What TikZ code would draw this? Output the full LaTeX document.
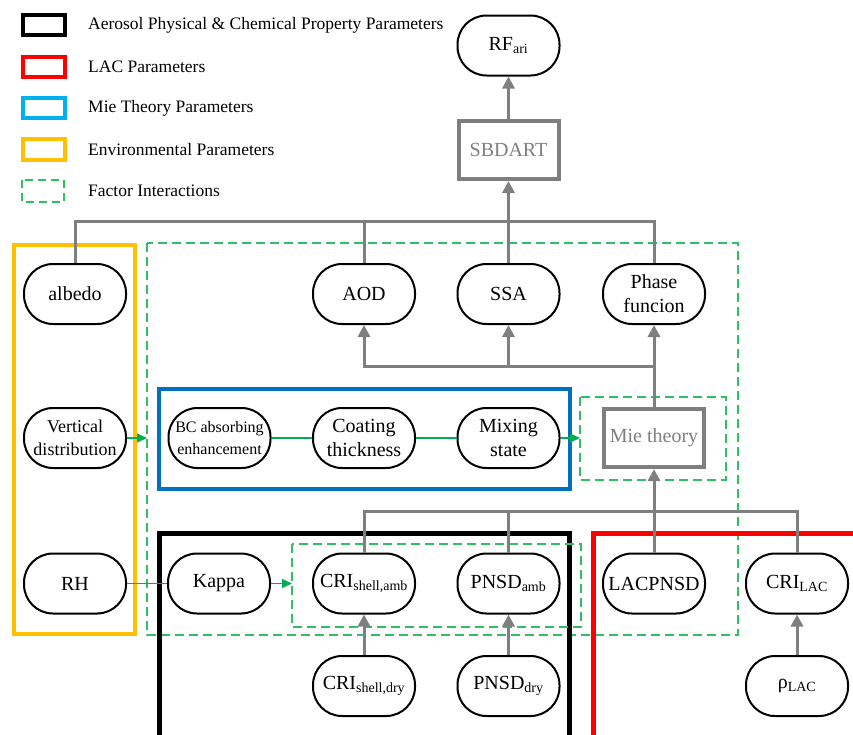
\documentclass[tikz,border=0pt]{standalone}
\usepackage{fontspec}
\setmainfont{Liberation Serif}
\usetikzlibrary{arrows.meta}
\definecolor{cgray}{RGB}{127,127,127}
\definecolor{cgreen}{RGB}{0,176,80}
\definecolor{cdash}{RGB}{50,190,100}
\definecolor{cblue}{RGB}{0,112,192}
\definecolor{clblue}{RGB}{0,176,240}
\definecolor{cyellow}{RGB}{255,192,0}
\definecolor{cred}{RGB}{255,0,0}
\begin{document}
\begin{tikzpicture}[x=1pt,y=-1pt,
 pill/.style={draw=black,line width=2pt,fill=white,rounded corners=29pt,minimum width=102pt,minimum height=60pt,inner sep=1pt,align=center,font=\fontsize{20}{24}\selectfont},
 gbox/.style={draw=cgray,line width=4pt,fill=white,minimum width=100pt,minimum height=58pt,text=cgray,font=\fontsize{20}{24}\selectfont},
 gline/.style={draw=cgray,line width=3pt},
 garr/.style={gline,-{Triangle[length=12pt,width=12pt]}},
 grn/.style={draw=cgreen,line width=1.4pt},
 grnarr/.style={grn,-{Triangle[length=10pt,width=9pt]}},
 fdash/.style={draw=cdash,line width=1.3pt,dash pattern=on 9pt off 5pt},
 legtext/.style={anchor=west,font=\fontsize{17.5}{20}\selectfont,inner sep=0pt},
 legbox/.style={line width=4pt}
]
\clip (0,0) rectangle (853,734);
\useasboundingbox (0,0) rectangle (853,734);
% legend
\draw[legbox,draw=black] (23,15) rectangle (65,35);
\draw[legbox,draw=cred] (23,57) rectangle (65,77);
\draw[legbox,draw=clblue] (23,98) rectangle (65,118);
\draw[legbox,draw=cyellow] (23,139) rectangle (65,160);
\draw[fdash,dash pattern=on 8pt off 5pt] (22,180) rectangle (64,202);
\node[legtext] (l1) at (88,25) {Aerosol Physical \& Chemical Property Parameters};
\node[legtext] (l2) at (88,67) {LAC Parameters};
\node[legtext] (l3) at (88,108) {Mie Theory Parameters};
\node[legtext] (l4) at (88,150) {Environmental Parameters};
\node[legtext] (l5) at (88,191) {Factor Interactions};
% group boxes
\draw[cyellow,line width=4.5pt] (14,245) rectangle (135,634);
\draw[fdash] (147,243) rectangle (738,635);
\draw[cblue,line width=4.5pt] (159,389) rectangle (570,489);
\draw[black,line width=5pt] (159.5,760) -- (159.5,533.5) -- (569.5,533.5) -- (569.5,760);
\draw[cred,line width=5pt] (593.5,760) -- (593.5,533.5) -- (880,533.5);
\draw[fdash] (580,397) rectangle (726,480);
\draw[fdash] (292,544) rectangle (581,627);
\coordinate (fiL) at (147,0);
\coordinate (mieL) at (580,0);
\coordinate (crL) at (292,0);
\coordinate (bus) at (0,221);
\coordinate (midbus) at (0,366);
\coordinate (lowbus) at (0,511);
% nodes
\node[pill] (rf) at (508.5,45.5) {RF\textsubscript{ari}};
\node[gbox] (sbdart) at (508.5,150) {SBDART};
\node[pill] (albedo) at (75,294) {albedo};
\node[pill] (aod) at (364,294) {AOD};
\node[pill] (ssa) at (508.5,294) {SSA};
\node[pill] (phase) at (654,294) {Phase\\funcion};
\node[pill,font=\fontsize{18}{23}\selectfont] (vd) at (75,438) {Vertical\\distribution};
\node[pill,font=\fontsize{16}{22}\selectfont] (bc) at (219.5,438) {BC absorbing\\enhancement};
\node[pill] (coat) at (364,438) {Coating\\thickness};
\node[pill] (mix) at (508.5,438) {Mixing\\state};
\node[gbox] (mie) at (654,438) {Mie theory};
\node[pill] (rh) at (75,583.5) {RH};
\node[pill] (kappa) at (219,583.5) {Kappa};
\node[pill] (criamb) at (364,583.5) {CRI\textsubscript{shell,amb}};
\node[pill] (pnsdamb) at (508.5,583.5) {PNSD\textsubscript{amb}};
\node[pill] (lacpnsd) at (654,583.5) {LACPNSD};
\node[pill] (crilac) at (797,583.5) {CRI\textsubscript{LAC}};
\node[pill] (cridry) at (364,686) {CRI\textsubscript{shell,dry}};
\node[pill] (pnsddry) at (508.5,686) {PNSD\textsubscript{dry}};
\node[pill] (rholac) at (797,686) {ρ\textsubscript{LAC}};
% gray connectors
\draw[gline] (albedo.north) |- (phase.north |- bus) -- (phase.north);
\draw[gline] (aod.north) -- (aod.north |- bus);
\draw[gline] (ssa.north) -- (ssa.north |- bus);
\draw[garr] (sbdart.south |- bus) -- (sbdart.south);
\draw[garr] (sbdart.north) -- (rf.south);
\draw[garr] (mie.north) -- (phase.south);
\draw[garr] (mie.north |- midbus) -| (aod.south);
\draw[garr] (ssa.south |- midbus) -- (ssa.south);
\draw[gline] (criamb.north) |- (crilac.north |- lowbus) -- (crilac.north);
\draw[gline] (pnsdamb.north) -- (pnsdamb.north |- lowbus);
\draw[garr] (lacpnsd.north) -- (mie.south);
\draw[garr] (cridry.north) -- (criamb.south);
\draw[garr] (pnsddry.north) -- (pnsdamb.south);
\draw[garr] (rholac.north) -- (crilac.south);
% green connectors
\draw[grnarr] (vd.east) -- (vd.east -| fiL);
\draw[grn] (bc.east) -- (coat.west);
\draw[grn] (coat.east) -- (mix.west);
\draw[grnarr] (mix.east) -- (mix.east -| mieL);
\draw[grn] (rh.east) -- (kappa.west);
\draw[grnarr] (kappa.east) -- (kappa.east -| crL);
\end{tikzpicture}
\end{document}
